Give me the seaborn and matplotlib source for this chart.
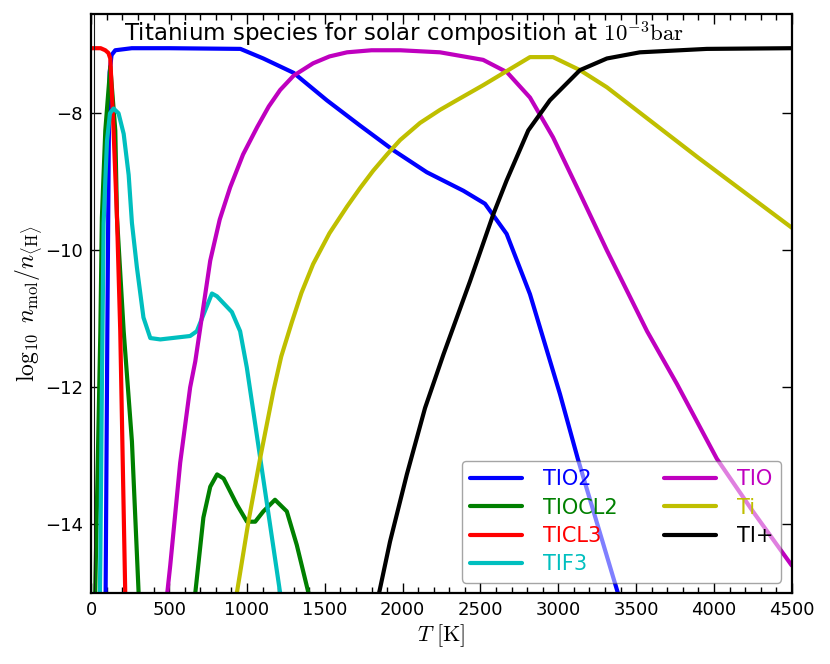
import matplotlib
matplotlib.use("Agg")
import matplotlib.pyplot as plt
import seaborn as sns
from matplotlib.ticker import MultipleLocator

# temperature grids [K] and log10 n_mol/n_<H> for each species
T_TIO2 = [85, 92, 103, 112, 118, 130, 154, 260, 500, 958, 1105, 1300, 1513, 1727, 1941,
          2155, 2390, 2529, 2668, 2818, 3011, 3125, 3380, 3450]
Y_TIO2 = [-16, -15, -11.2, -8.5, -7.4, -7.15, -7.08, -7.05, -7.05, -7.06, -7.2, -7.41, -7.81,
          -8.18, -8.54, -8.86, -9.13, -9.32, -9.76, -10.64, -12.1, -13.04, -14.98, -15.5]

T_TIOCL2 = [20, 25, 58, 68, 90, 122, 154, 165, 208, 261, 304, 315, 640, 668, 720, 764, 808,
            850, 935, 1000, 1053, 1105, 1180, 1256, 1320, 1395, 1450]
Y_TIOCL2 = [-16, -15, -11.2, -9.52, -8.25, -7.32, -8.25, -9.52, -11.18, -12.79, -15, -15.6,
            -15.6, -15, -13.9, -13.45, -13.27, -13.33, -13.71, -13.96, -13.96, -13.81, -13.64,
            -13.81, -14.3, -15, -15.5]

T_TICL3 = [0, 60, 90, 110, 122, 143, 165, 186, 218, 225]
Y_TICL3 = [-7.05, -7.05, -7.08, -7.12, -7.2, -8.25, -9.52, -11.18, -15, -15.8]

T_TIF3 = [50, 58, 68, 79, 90, 101, 120, 143, 175, 208, 240, 261, 293, 335, 379, 443, 635, 678,
          775, 807, 903, 956, 999, 1085, 1213, 1240]
Y_TIF3 = [-16, -14.5, -12, -9.61, -8.98, -8.4, -8.0, -7.93, -8.0, -8.3, -8.9, -9.6, -10.25,
          -10.98, -11.28, -11.3, -11.25, -11.18, -10.63, -10.67, -10.9, -11.18, -11.71, -13.03,
          -15, -15.4]

T_TIO = [470, 488, 507, 571, 635, 668, 764, 825, 892, 975, 1066, 1140, 1213, 1300, 1425, 1530,
         1643, 1800, 1985, 2240, 2517, 2670, 2818, 2966, 3139, 3312, 3570, 3762, 4018, 4250, 4500]
Y_TIO = [-15.4, -15, -14.6, -13.1, -12.0, -11.62, -10.15, -9.55, -9.08, -8.6, -8.2, -7.9,
         -7.66, -7.45, -7.27, -7.17, -7.11, -7.08, -7.08, -7.11, -7.22, -7.4, -7.77, -8.35,
         -9.17, -10.0, -11.18, -11.95, -13.04, -13.81, -14.6]

T_TI = [910, 935, 1010, 1085, 1170, 1220, 1288, 1350, 1425, 1530, 1643, 1727, 1810, 1900, 1984,
        2112, 2240, 2347, 2517, 2818, 2966, 3139, 3312, 3900, 4500]
Y_TI = [-15.5, -15, -13.95, -13.03, -12.05, -11.55, -11.05, -10.62, -10.2, -9.75, -9.36,
        -9.09, -8.84, -8.6, -8.39, -8.14, -7.95, -7.81, -7.59, -7.18, -7.18, -7.37, -7.62,
        -8.65, -9.67]

T_TIP = [1820, 1845, 1919, 2027, 2144, 2262, 2433, 2583, 2668, 2807, 2946, 3139, 3312, 3524,
         3954, 4500]
Y_TIP = [-15.5, -15.04, -14.25, -13.27, -12.3, -11.52, -10.45, -9.47, -8.98, -8.25, -7.81,
         -7.37, -7.2, -7.11, -7.06, -7.05]

EDGE_T = [15]  # thin vertical line near the left edge

species = [
    ("TIO2", T_TIO2, Y_TIO2, (0, 0, 1)),
    ("TIOCL2", T_TIOCL2, Y_TIOCL2, (0, 0.5, 0)),
    ("TICL3", T_TICL3, Y_TICL3, (1, 0, 0)),
    ("TIF3", T_TIF3, Y_TIF3, (0, 0.75, 0.75)),
    ("TIO", T_TIO, Y_TIO, (0.75, 0, 0.75)),
    ("Ti", T_TI, Y_TI, (0.75, 0.75, 0)),
    ("TI+", T_TIP, Y_TIP, (0, 0, 0)),
]

sns.set_theme(style="ticks")
plt.rcParams.update({
    "font.family": ["DejaVu Sans"],
    "mathtext.fontset": "cm",
    "text.color": "black",
    "axes.labelcolor": "black",
    "xtick.color": "black",
    "ytick.color": "black",
    "xtick.direction": "in",
    "ytick.direction": "in",
    "xtick.top": True,
    "ytick.right": True,
    "xtick.major.size": 7,
    "ytick.major.size": 7,
    "xtick.minor.size": 4,
    "xtick.major.width": 1,
    "ytick.major.width": 1,
    "xtick.minor.width": 1,
    "xtick.labelsize": 13,
    "ytick.labelsize": 13,
    "axes.linewidth": 1.6,
    "axes.edgecolor": "black",
})

fig, ax = plt.subplots(figsize=(8.3, 6.64), dpi=100)
fig.subplots_adjust(left=0.11, right=0.954, top=0.979, bottom=0.107)

for name, t, y, col in species:
    sns.lineplot(x=t, y=y, color=col, lw=3, label=name, ax=ax)

for t in EDGE_T:
    ax.axvline(t, color="k", lw=0.8)

ax.set_xlim(0, 4500)
ax.set_ylim(-15, -6.55)
ax.xaxis.set_major_locator(MultipleLocator(500))
ax.xaxis.set_minor_locator(MultipleLocator(100))
ax.yaxis.set_major_locator(MultipleLocator(2))
ax.tick_params(axis="both", pad=6)

ax.set_xlabel(r"$T\ [\mathrm{K}]$", fontsize=16, labelpad=2)
ax.set_ylabel(r"$\log_{10}\ n_\mathrm{mol}/n_\mathrm{\langle H\rangle}$", fontsize=17,
              labelpad=1)
ax.text(0.046, 0.952, r"Titanium species for solar composition at $10^{-3}\mathrm{bar}$",
        transform=ax.transAxes, fontsize=16.5, va="baseline", ha="left")

leg = ax.legend(loc="lower right", ncol=2, fontsize=15, handlelength=2.5, handletextpad=1.0,
                labelspacing=0.4, columnspacing=2.2, fancybox=True, framealpha=0.5,
                edgecolor="0.3")
for txt, line in zip(leg.get_texts(), leg.get_lines()):
    txt.set_color(line.get_color())
    line.set_linewidth(3)

fig.savefig("out.png", dpi=100)
